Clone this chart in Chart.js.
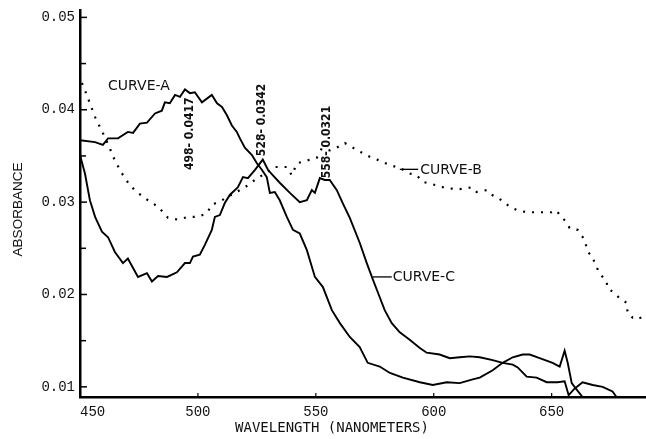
<!DOCTYPE html>
<html><head><meta charset="utf-8">
<script src="https://cdn.jsdelivr.net/npm/chart.js@4/dist/chart.umd.min.js"></script>
<style>html,body{margin:0;padding:0;background:#fff;}#wrap{width:646px;height:439px;}</style>
</head><body><div id="wrap"><canvas id="c" width="646" height="439"></canvas></div>
<script>
// ---- data ----
const xTicks = [450, 500, 550, 600, 650];
const yMajorTicks = [0.01, 0.02, 0.03, 0.04, 0.05];
const yMinorTicks = [0.015, 0.025, 0.035, 0.045];
const xMin = 450, xMax = 690, yMin = 0.0089, yMax = 0.0508;

const curveAWl = [450.0,456.4,459.7,461.9,466.1,470.3,472.5,475.4,478.4,481.8,484.7,486.0,488.1,490.3,492.4,494.5,496.6,498.7,501.7,505.9,508.1,510.2,512.3,514.4,516.5,517.8,519.9,522.9,525.0,527.1,529.2,530.5,532.6,534.7,537.7,540.3,543.2,546.2,549.6,553.0,556.8,560.2,564.4,568.6,572.0,577.1,581.4,586.9,594.1,599.6,605.5,611.0,616.5,619.5,625.0,629.2,633.5,637.7,640.7,644.9,650.4,653.4,655.5,656.8,658.5,660.6,663.1];
const curveAAbs = [0.0367,0.0365,0.0362,0.0369,0.0369,0.0376,0.0375,0.0385,0.0386,0.0396,0.0399,0.0408,0.0407,0.0416,0.0414,0.0422,0.0418,0.0419,0.0408,0.0416,0.0407,0.0403,0.0394,0.0383,0.0376,0.0369,0.0359,0.0351,0.0342,0.0335,0.0327,0.0310,0.0311,0.0302,0.0284,0.0270,0.0266,0.0248,0.0219,0.0208,0.0183,0.0169,0.0154,0.0143,0.0126,0.0122,0.0115,0.0110,0.0105,0.0102,0.0105,0.0104,0.0108,0.0110,0.0118,0.0126,0.0132,0.0135,0.0135,0.0131,0.0126,0.0122,0.0139,0.0126,0.0104,0.0097,0.0089];

const curveBWl = [450.8,452.1,454.2,456.4,458.5,460.6,462.7,464.8,467.8,471.2,474.6,478.8,483.1,487.3,491.5,495.8,500.0,503.8,505.9,510.2,515.7,519.9,524.2,528.4,532.6,537.7,539.8,542.0,546.2,550.4,552.5,555.9,558.9,562.3,565.7,569.9,572.9,577.1,581.4,585.6,589.8,592.8,595.3,601.3,605.5,611.0,616.1,618.2,622.5,624.6,628.8,632.2,635.6,639.4,644.9,650.0,652.1,653.4,656.4,657.6,661.0,664.0,665.3,667.4,668.2,670.3,673.3,673.7,675.8,678.8,681.8,682.2,684.3,687.3,688.6];
const curveBAbs = [0.0429,0.0421,0.0407,0.0392,0.0381,0.0370,0.0358,0.0345,0.0331,0.0318,0.0310,0.0302,0.0295,0.0283,0.0281,0.0284,0.0284,0.0288,0.0297,0.0302,0.0310,0.0316,0.0324,0.0331,0.0338,0.0338,0.0329,0.0342,0.0345,0.0348,0.0358,0.0356,0.0359,0.0364,0.0359,0.0353,0.0349,0.0345,0.0340,0.0337,0.0331,0.0329,0.0322,0.0318,0.0315,0.0314,0.0316,0.0311,0.0313,0.0308,0.0302,0.0295,0.0291,0.0289,0.0289,0.0289,0.0291,0.0286,0.0278,0.0272,0.0270,0.0259,0.0246,0.0241,0.0234,0.0223,0.0214,0.0207,0.0203,0.0196,0.0191,0.0180,0.0175,0.0176,0.0170];

const curveCWl = [450.0,452.1,454.2,456.4,459.3,461.9,464.8,468.2,470.3,474.6,478.4,480.5,483.1,486.9,491.1,494.5,496.6,497.9,500.8,503.0,505.9,507.2,509.3,511.4,513.6,516.9,519.1,521.2,524.2,527.5,529.7,531.8,534.7,539.0,543.2,546.2,548.3,549.6,551.7,553.8,555.9,558.9,561.4,564.4,568.6,571.6,574.2,577.1,579.2,582.2,585.6,589.8,594.1,597.0,602.5,606.8,611.0,615.3,619.5,625.0,629.2,633.5,635.6,639.4,643.6,647.9,652.5,655.5,657.2,659.7,663.1,667.4,671.6,675.8,677.5];
const curveCAbs = [0.0351,0.0331,0.0302,0.0284,0.0268,0.0262,0.0246,0.0234,0.0239,0.0219,0.0223,0.0214,0.0220,0.0219,0.0224,0.0234,0.0234,0.0241,0.0243,0.0254,0.0270,0.0284,0.0286,0.0299,0.0308,0.0316,0.0327,0.0326,0.0335,0.0346,0.0335,0.0329,0.0321,0.0310,0.0300,0.0302,0.0313,0.0310,0.0326,0.0324,0.0324,0.0313,0.0299,0.0283,0.0256,0.0234,0.0216,0.0197,0.0183,0.0169,0.0159,0.0151,0.0142,0.0137,0.0135,0.0131,0.0132,0.0133,0.0132,0.0129,0.0126,0.0124,0.0121,0.0111,0.0110,0.0105,0.0105,0.0106,0.0091,0.0098,0.0105,0.0102,0.0100,0.0095,0.0089];

const curveLabels = ['CURVE-A', 'CURVE-B', 'CURVE-C'];
const peakLabels = ['498- 0.0417', '528- 0.0342', '558- 0.0321'];
const xTitle = 'WAVELENGTH (NANOMETERS)';
const yTitle = 'ABSORBANCE';

const pts = (xs, ys) => xs.map((x, i) => ({x: x, y: ys[i]}));

// ---- annotation plugin (positions in data units, mapped via scales) ----
const annot = {
  id: 'annot',
  afterDraw(chart) {
    const ctx = chart.ctx, xs = chart.scales.x, ys = chart.scales.y, ca = chart.chartArea;
    const px = v => xs.getPixelForValue(v), py = v => ys.getPixelForValue(v);
    ctx.save();
    ctx.strokeStyle = '#000'; ctx.fillStyle = '#111';
    // inner tick marks
    ctx.lineWidth = 1.5;
    yMajorTicks.forEach(v => { ctx.beginPath(); ctx.moveTo(ca.left, py(v)); ctx.lineTo(ca.left + 7, py(v)); ctx.stroke(); });
    yMinorTicks.forEach(v => { ctx.beginPath(); ctx.moveTo(ca.left, py(v)); ctx.lineTo(ca.left + 6, py(v)); ctx.stroke(); });
    ctx.lineWidth = 1.2;
    xTicks.slice(1).forEach(v => { ctx.beginPath(); ctx.moveTo(px(v), ca.bottom); ctx.lineTo(px(v), ca.bottom - 4); ctx.stroke(); });
    // curve labels
    ctx.font = '14px "DejaVu Sans"';
    ctx.textBaseline = 'middle'; ctx.textAlign = 'left';
    ctx.fillText(curveLabels[0], px(461.9), py(0.0425));
    ctx.lineWidth = 1.3;
    ctx.beginPath(); ctx.moveTo(px(585.6), py(0.03355)); ctx.lineTo(px(593.4), py(0.03355)); ctx.stroke();
    ctx.fillText(curveLabels[1], px(594.3), py(0.0334));
    ctx.beginPath(); ctx.moveTo(px(574.2), py(0.0219)); ctx.lineTo(px(582.2), py(0.0219)); ctx.stroke();
    ctx.fillText(curveLabels[2], px(582.6), py(0.0219));
    // peak labels (rotated)
    ctx.font = 'bold 12px "Liberation Sans Narrow", "DejaVu Sans Condensed", sans-serif';
    ctx.textAlign = 'center';
    [[496.6, 0.0374], [527.1, 0.0389], [554.7, 0.0365]].forEach((p, i) => {
      ctx.save(); ctx.translate(px(p[0]), py(p[1])); ctx.rotate(-Math.PI / 2);
      ctx.fillText(peakLabels[i], 0, 0); ctx.restore();
    });
    // axis titles
    ctx.font = '14px "DejaVu Sans Mono"';
    ctx.fillText(xTitle, (ca.left + ca.right) / 2 - 31, ca.bottom + 31);
    ctx.font = '13.5px "Liberation Sans", Arial, sans-serif';
    ctx.save(); ctx.translate(18, (ca.top + ca.bottom) / 2 + 6); ctx.rotate(-Math.PI / 2);
    ctx.fillText(yTitle, 0, 0); ctx.restore();
    ctx.restore();
  }
};

const lineBase = {pointRadius: 0, tension: 0, fill: false, borderColor: '#000'};

new Chart(document.getElementById('c'), {
  type: 'line',
  data: {
    datasets: [
      Object.assign({label: curveLabels[0], data: pts(curveAWl, curveAAbs), borderWidth: 1.9}, lineBase),
      Object.assign({label: curveLabels[1], data: pts(curveBWl, curveBAbs), borderWidth: 2.2, borderDash: [2, 7]}, lineBase),
      Object.assign({label: curveLabels[2], data: pts(curveCWl, curveCAbs), borderWidth: 1.9}, lineBase)
    ]
  },
  options: {
    responsive: false, animation: false, devicePixelRatio: 1,
    layout: {padding: {top: 10, right: 0, left: 0, bottom: 0}},
    plugins: {legend: {display: false}, tooltip: {enabled: false}},
    scales: {
      x: {
        type: 'linear', min: xMin, max: xMax,
        afterFit(s) { s.height = 42; s.paddingLeft = 0; s.paddingRight = 0; },
        afterBuildTicks(s) { s.ticks = xTicks.concat([xMax]).map(v => ({value: v})); },
        grid: {display: false, drawTicks: false},
        border: {display: true, width: 2.5, color: '#000'},
        ticks: {align: 'inner', padding: 7, color: '#111', font: {family: '"Liberation Mono", monospace', size: 14},
          maxRotation: 0, autoSkip: false,
          callback: v => (v === xMax ? '' : String(v))}
      },
      y: {
        type: 'linear', min: yMin, max: yMax,
        afterFit(s) { s.width = 80; s.paddingTop = 0; s.paddingBottom = 0; },
        afterBuildTicks(s) { s.ticks = yMajorTicks.map(v => ({value: v})); },
        grid: {display: false, drawTicks: false},
        border: {display: true, width: 2.5, color: '#000'},
        ticks: {padding: 5, color: '#111', font: {family: '"Liberation Mono", monospace', size: 14},
          callback: v => v.toFixed(2)}
      }
    }
  },
  plugins: [annot]
});
</script>
</body></html>
